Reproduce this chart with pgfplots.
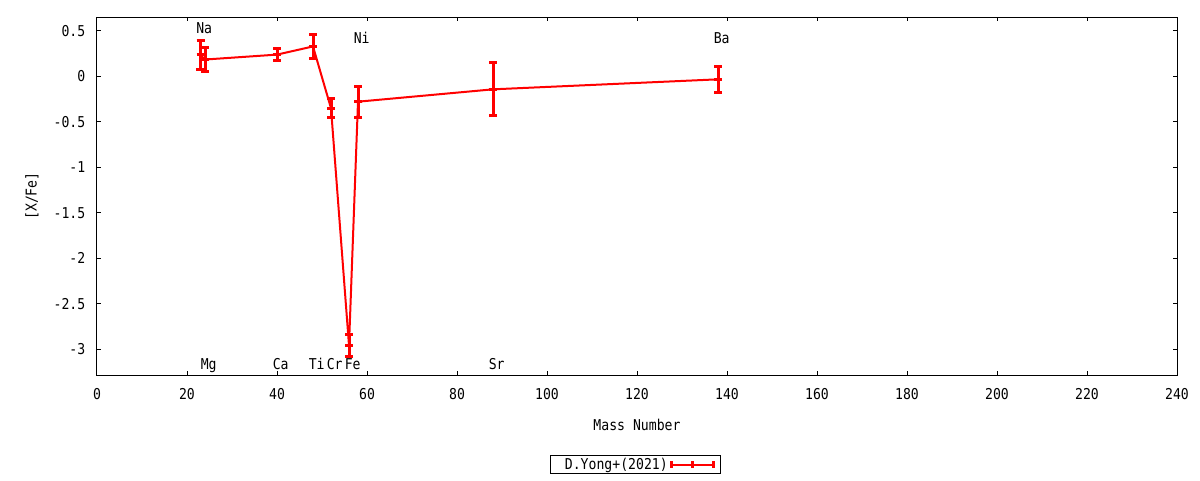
\documentclass[border=0pt]{standalone}
\usepackage{fontspec}
\setmainfont{DejaVu Sans Mono}[FakeStretch=0.88]
\usepackage{pgfplots}
\pgfplotsset{compat=1.18}
\begin{document}
\begin{tikzpicture}[font=\fontsize{11.2}{13}\selectfont]
\begin{axis}[
  at={(0,0)}, anchor=south west,
  scale only axis, width=810pt, height=268.5pt,
  xmin=0, xmax=240, ymin=-3.286, ymax=0.654,
  xtick={0,20,...,240}, ytick={-3,-2.5,...,0.5},
  tick align=inside, major tick length=3pt,
  axis line style={line width=0.75pt},
  every tick/.style={black, line width=0.75pt},
  /pgf/number format/assume math mode=true,
  xticklabel style={yshift=-6.75pt},
  yticklabel style={xshift=-5.25pt},
  xlabel={Mass Number}, ylabel={[X/Fe]},
  every axis x label/.style={at={(axis description cs:0.5,-0.1397)}, anchor=center},
  every axis y label/.style={at={(axis description cs:-0.0602,0.5)}, anchor=center, rotate=90},
  legend plot pos=right,
  legend style={at={(axis description cs:0.4986,-0.25)}, anchor=center, draw=black, line width=0.75pt, inner xsep=3.5pt, inner ysep=0pt},
  legend image code/.code={
    \draw[red, line width=1.5pt] (0pt,0pt) -- (31.5pt,0pt);
    \draw[red, line width=2.25pt] (0pt,-2.6pt) -- (0pt,2.6pt);
    \draw[red, line width=2.25pt] (15.75pt,-2.6pt) -- (15.75pt,2.6pt);
    \draw[red, line width=2.25pt] (31.5pt,-2.6pt) -- (31.5pt,2.6pt);
  },
]
\addplot[red, line width=1.5pt, mark=+, mark size=3pt, mark options={line width=2.25pt},
  error bars/.cd, y dir=both, y explicit,
  error bar style={line width=2.25pt},
  error mark=-,
  error mark options={line width=2.25pt, mark size=3pt, rotate=90}]
coordinates {
  (23,0.236) +- (0,0.16)
  (24,0.186) +- (0,0.13)
  (40,0.24) +- (0,0.07)
  (48,0.33) +- (0,0.13)
  (52,-0.35) +- (0,0.105)
  (56,-2.96) +- (0,0.12)
  (58,-0.278) +- (0,0.17)
  (88,-0.142) +- (0,0.29)
  (138,-0.032) +- (0,0.14)
};
\addlegendentry{\hspace{5pt}D.Yong+(2021)\hspace{5.5pt}}
\node[anchor=base west, inner sep=0pt] at (axis cs:22,0.473) {Na};
\node[anchor=base west, inner sep=0pt] at (axis cs:23,-3.22) {Mg};
\node[anchor=base west, inner sep=0pt] at (axis cs:39,-3.22) {Ca};
\node[anchor=base west, inner sep=0pt] at (axis cs:47,-3.22) {Ti};
\node[anchor=base west, inner sep=0pt] at (axis cs:51,-3.22) {Cr};
\node[anchor=base west, inner sep=0pt] at (axis cs:55,-3.22) {Fe};
\node[anchor=base west, inner sep=0pt] at (axis cs:57,0.363) {Ni};
\node[anchor=base west, inner sep=0pt] at (axis cs:87,-3.22) {Sr};
\node[anchor=base west, inner sep=0pt] at (axis cs:137,0.363) {Ba};
\end{axis}
\pgfresetboundingbox
\path[use as bounding box] (-72.75pt,-78.75pt) rectangle (827.25pt,281.25pt);
\end{tikzpicture}
\end{document}
